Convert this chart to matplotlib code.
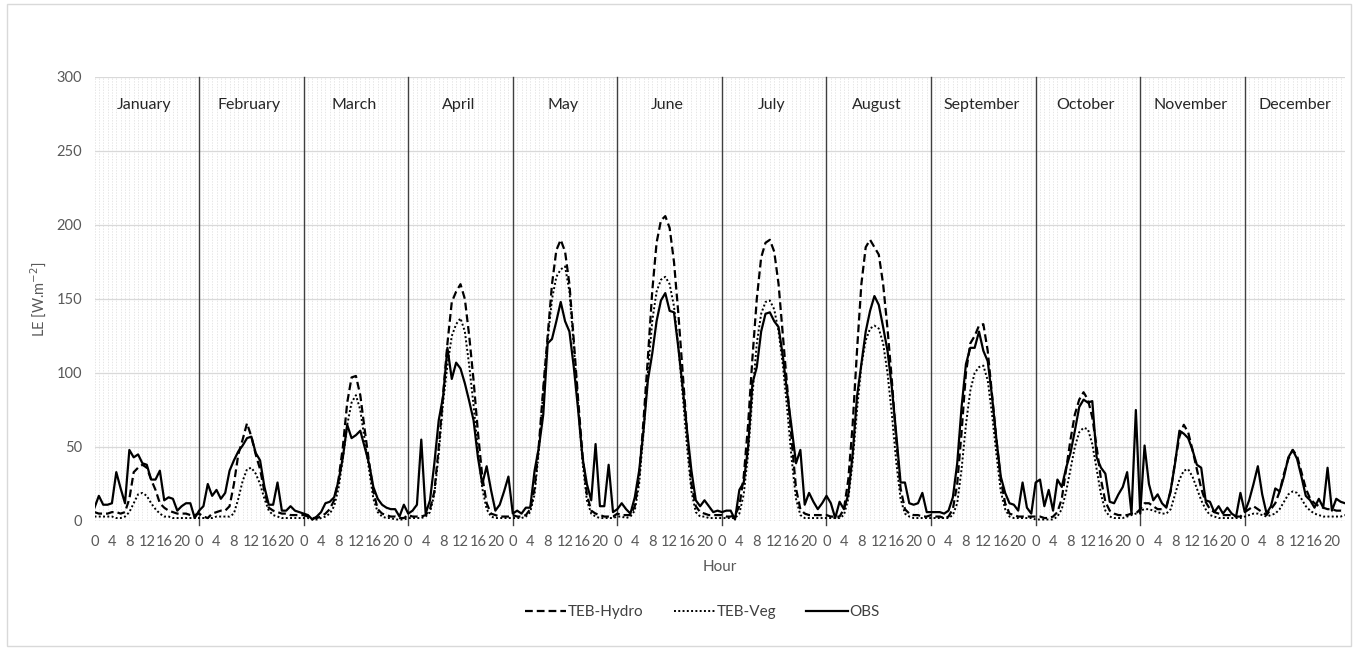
import matplotlib
matplotlib.use('Agg')
import matplotlib.pyplot as plt
from matplotlib.patches import Rectangle
import numpy as np

plt.rcParams['font.family'] = ['Lato', 'DejaVu Sans']

months = ['January', 'February', 'March', 'April', 'May', 'June', 'July',
          'August', 'September', 'October', 'November', 'December']
hour_labels = ['0', '4', '8', '12', '16', '20']

# mean diurnal cycle of LE (W.m-2), 24 values per month
teb_hydro = [
    6, 5, 5, 5, 6, 6, 5, 6, 15, 33, 36, 38, 36, 28, 21, 12, 9, 7, 6, 5, 5, 5, 4, 4,
    5, 3, 2, 5, 6, 7, 7, 10, 25, 45, 55, 66, 57, 45, 35, 20, 9, 7, 6, 5, 5, 4, 4, 4,
    4, 3, 2, 2, 3, 5, 8, 14, 28, 50, 80, 97, 98, 85, 62, 40, 20, 8, 5, 4, 3, 3, 2, 2,
    4, 3, 3, 3, 4, 8, 20, 50, 85, 120, 148, 155, 160, 150, 125, 95, 60, 30, 12, 5, 4, 3, 3, 3,
    4, 3, 3, 4, 8, 22, 52, 90, 125, 160, 183, 190, 182, 160, 122, 82, 45, 18, 7, 5, 4, 3, 3, 3,
    5, 4, 4, 4, 10, 30, 68, 110, 155, 188, 203, 206, 198, 175, 140, 100, 60, 25, 10, 6, 5, 4, 4, 4,
    4, 3, 3, 4, 10, 30, 65, 110, 150, 178, 188, 190, 182, 160, 125, 90, 55, 22, 8, 5, 4, 4, 4, 4,
    4, 3, 3, 3, 8, 28, 65, 115, 160, 185, 190, 185, 180, 160, 130, 95, 55, 22, 8, 5, 4, 4, 3, 3,
    4, 3, 3, 2, 3, 8, 25, 60, 100, 120, 125, 132, 133, 115, 85, 55, 28, 12, 5, 4, 3, 3, 3, 3,
    3, 3, 2, 2, 3, 6, 15, 35, 55, 72, 82, 87, 82, 70, 50, 28, 13, 7, 5, 4, 4, 4, 5, 5,
    8, 12, 12, 10, 8, 8, 10, 20, 40, 57, 65, 60, 48, 35, 22, 13, 8, 6, 5, 4, 4, 4, 3, 3,
    6, 8, 10, 8, 6, 4, 8, 12, 20, 32, 42, 48, 44, 33, 22, 15, 12, 10, 9, 8, 8, 7, 7, 7,
]

teb_veg = [
    3, 3, 3, 3, 3, 2, 2, 3, 6, 12, 18, 19, 17, 12, 8, 5, 3, 3, 2, 2, 2, 2, 2, 2,
    2, 2, 2, 2, 3, 3, 3, 3, 5, 15, 27, 35, 36, 32, 25, 15, 7, 4, 3, 2, 2, 2, 2, 2,
    2, 2, 1, 1, 2, 3, 5, 10, 22, 42, 65, 80, 85, 75, 55, 35, 15, 6, 3, 2, 2, 1, 1, 1,
    2, 2, 2, 2, 3, 6, 18, 45, 80, 105, 125, 133, 137, 128, 105, 78, 48, 22, 8, 3, 2, 2, 2, 2,
    2, 2, 2, 3, 6, 18, 48, 88, 122, 150, 165, 170, 172, 155, 118, 78, 40, 14, 5, 3, 2, 2, 2, 2,
    3, 3, 2, 3, 7, 25, 60, 100, 135, 155, 163, 165, 160, 145, 118, 85, 50, 20, 6, 3, 3, 2, 2, 2,
    2, 2, 2, 2, 5, 18, 45, 85, 120, 140, 148, 149, 143, 128, 105, 75, 42, 15, 4, 2, 2, 2, 2, 2,
    2, 2, 2, 2, 4, 15, 40, 75, 105, 122, 130, 132, 130, 120, 100, 72, 40, 15, 5, 3, 2, 2, 2, 2,
    2, 2, 2, 2, 2, 4, 12, 35, 65, 88, 100, 104, 105, 95, 72, 45, 20, 8, 3, 2, 2, 2, 2, 2,
    1, 1, 1, 1, 1, 3, 8, 20, 35, 50, 60, 63, 62, 52, 35, 18, 7, 3, 2, 2, 2, 3, 4, 5,
    7, 8, 8, 7, 6, 5, 5, 8, 18, 28, 34, 35, 30, 22, 14, 8, 4, 3, 2, 2, 2, 2, 2, 2,
    3, 4, 5, 5, 4, 3, 4, 5, 8, 13, 18, 20, 19, 15, 10, 7, 5, 4, 3, 3, 3, 3, 3, 4,
]

obs = [
    9, 17, 11, 11, 12, 33, 22, 12, 48, 43, 45, 39, 38, 28, 28, 34, 14, 16, 15, 7, 10, 12, 12, 2,
    7, 10, 25, 17, 21, 15, 19, 34, 41, 47, 51, 56, 57, 46, 41, 23, 11, 11, 26, 7, 7, 10, 7, 6,
    5, 4, 1, 3, 6, 12, 13, 16, 27, 43, 65, 56, 58, 61, 50, 39, 23, 15, 11, 9, 8, 8, 3, 11,
    5, 7, 11, 55, 5, 14, 39, 68, 84, 117, 96, 107, 103, 93, 81, 68, 43, 25, 37, 21, 7, 11, 20, 30,
    5, 7, 5, 9, 9, 34, 50, 72, 120, 123, 135, 148, 135, 128, 104, 75, 43, 25, 14, 52, 10, 10, 38, 6,
    8, 12, 8, 5, 16, 34, 61, 95, 113, 135, 149, 154, 142, 141, 117, 90, 61, 34, 14, 10, 14, 10, 6, 7,
    6, 7, 7, 1, 21, 26, 50, 93, 104, 128, 140, 141, 135, 131, 111, 86, 63, 39, 48, 11, 19, 13, 8, 12,
    17, 12, 2, 13, 8, 18, 45, 84, 106, 128, 142, 152, 146, 131, 115, 90, 59, 26, 26, 12, 11, 12, 19, 6,
    6, 6, 6, 5, 7, 16, 39, 77, 106, 117, 117, 128, 115, 108, 84, 55, 30, 19, 12, 11, 7, 26, 9, 5,
    26, 28, 10, 21, 7, 28, 23, 36, 46, 61, 77, 82, 80, 81, 43, 36, 32, 13, 12, 18, 23, 33, 5, 75,
    5, 51, 25, 14, 18, 12, 9, 21, 39, 61, 59, 56, 48, 38, 36, 14, 13, 6, 10, 5, 9, 5, 3, 19,
    6, 14, 25, 37, 18, 5, 10, 22, 20, 30, 43, 48, 42, 30, 17, 14, 9, 15, 9, 36, 7, 15, 13, 12,
]

x = np.arange(len(obs))

fig = plt.figure(figsize=(13.58, 6.5), dpi=100)
ax = fig.add_axes([94.5 / 1358, 129 / 650, (1345 - 94.5) / 1358, 444 / 650])

# hourly light grid + horizontal major grid
for h in x:
    ax.axvline(h, color='#dcdcdc', lw=0.5, ls=(0, (2, 2)), zorder=0)
for v in range(0, 301, 50):
    ax.axhline(v, color='#d9d9d9', lw=0.9, zorder=0)

# month separators and names
for m in range(12):
    if m > 0:
        ax.plot([m * 24, m * 24], [-3, 300], color='#404040', lw=1.0, clip_on=False, zorder=1)
    ax.text(m * 24 + 11.5, 281, months[m], ha='center', va='center', fontsize=11.5, color='#262626')

ax.plot(x, teb_hydro, color='black', lw=1.6, ls=(0, (3.5, 1.8)), label='TEB-Hydro', zorder=3)
ax.plot(x, teb_veg, color='black', lw=1.4, ls=(0, (1, 1.2)), label='TEB-Veg', zorder=3)
ax.plot(x, obs, color='black', lw=1.6, label='OBS', zorder=4)

ax.set_xlim(0, 287)
ax.set_ylim(0, 300)
ticks = [m * 24 + int(h) for m in range(12) for h in hour_labels]
ax.set_xticks(ticks)
ax.set_xticklabels(hour_labels * 12)
ax.set_yticks(range(0, 301, 50))
ax.tick_params(axis='both', length=0, labelsize=10.5, colors='#595959')
ax.tick_params(axis='x', pad=10)
ax.tick_params(axis='y', pad=9)
for s in ax.spines.values():
    s.set_visible(False)

ax.set_ylabel('LE [W.m$^{-2}$]', fontsize=10.5, color='#595959', labelpad=6)
ax.set_xlabel('Hour', fontsize=11, color='#595959', labelpad=8)

fig.legend(loc='center', bbox_to_anchor=(0.517, 38 / 650), ncol=3, frameon=False,
           fontsize=11, handlelength=2.7, handletextpad=0.1, columnspacing=2.0,
           labelcolor='#404040')

fig.patches.append(Rectangle((0.005, 0.006), 0.99, 0.988, transform=fig.transFigure,
                             fill=False, edgecolor='#d9d9d9', lw=1))

fig.savefig('out.png', dpi=100)
